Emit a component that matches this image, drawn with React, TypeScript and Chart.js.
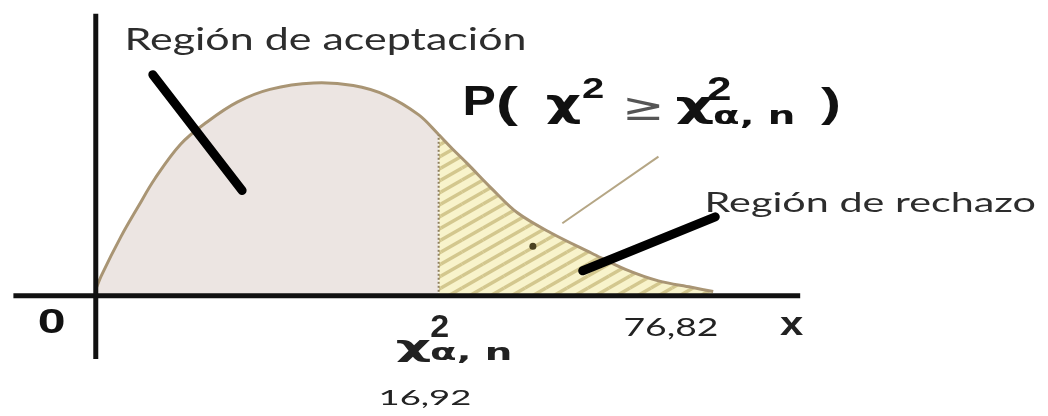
import React, { useEffect, useRef } from "react";
import { Chart, registerables } from "chart.js";

Chart.register(...registerables);

// ---- data (abstract x units; density scaled so the peak is 1) ----
const acceptX = [0, 0.78, 3.61, 6.01, 8.42, 12.09, 15.91, 20.16, 24.82, 31.05, 36.7, 41.37, 46.04, 48.87];
const acceptY = [0.03, 0.094, 0.279, 0.417, 0.55, 0.712, 0.818, 0.91, 0.97, 1.0, 0.988, 0.942, 0.85, 0.758];
const rejectX = [48.87, 50.85, 53, 56.4, 60.1, 64.9, 70.7, 75.5, 80.2, 84.9, 88];
const rejectY = [0.758, 0.69, 0.62, 0.505, 0.39, 0.295, 0.2, 0.124, 0.07, 0.04, 0.02];
const criticalX = 48.87;

const xAxisX = [-11.74, 100.4];
const yAxisY = [-0.297, 1.325];

const pointer1X = [8.13, 20.86];
const pointer1Y = [1.039, 0.495];
const pointer2X = [88.3, 69.4];
const pointer2Y = [0.371, 0.1175];
const thinX = [80.2, 66.5];
const thinY = [0.654, 0.341];
const dotX = [62.3];
const dotY = [0.233];

const tickLabels = ["0", "16,92", "76,82"];
const axisTitle = "x";
const regionLabels = ["Región de aceptación", "Región de rechazo"];
const formulaParts = ["P", "(", "χ", "2", "≥", "χ", "2", "α, n", ")"];
const criticalParts = ["χ", "2", "α, n"];

const pts = (xs: number[], ys: number[]) => xs.map((x, i) => ({ x, y: ys[i] }));

function ink(
  ctx: CanvasRenderingContext2D,
  text: string,
  font: string,
  x0: number,
  y0: number,
  x1: number,
  y1: number,
  color: string
) {
  ctx.save();
  ctx.font = font;
  ctx.textBaseline = "alphabetic";
  ctx.textAlign = "left";
  const m = ctx.measureText(text);
  const w = m.actualBoundingBoxLeft + m.actualBoundingBoxRight;
  const h = m.actualBoundingBoxAscent + m.actualBoundingBoxDescent;
  const sx = (x1 - x0) / w;
  const sy = (y1 - y0) / h;
  ctx.translate(x0 + m.actualBoundingBoxLeft * sx, y0 + m.actualBoundingBoxAscent * sy);
  ctx.scale(sx, sy);
  ctx.fillStyle = color;
  ctx.fillText(text, 0, 0);
  ctx.restore();
}

function makePattern(): CanvasPattern | string {
  const W = 21;
  const H = 12;
  const c = document.createElement("canvas");
  c.width = W;
  c.height = H;
  const g = c.getContext("2d");
  if (!g) return "#f3ecbf";
  g.fillStyle = "#f8f3cb";
  g.fillRect(0, 0, W, H);
  g.strokeStyle = "#d3c78e";
  g.lineWidth = 3.5;
  for (const dx of [-W, 0, W]) {
    for (const dy of [-H, 0, H]) {
      g.beginPath();
      g.moveTo(dx, H + dy);
      g.lineTo(W + dx, dy);
      g.stroke();
    }
  }
  return g.createPattern(c, "repeat") || "#f3ecbf";
}

const textPlugin = {
  id: "illustrationText",
  afterDraw(chart: any) {
    const ctx: CanvasRenderingContext2D = chart.ctx;
    const sans = "Lato, 'Open Sans', sans-serif";
    const bold = "bold 40px 'Liberation Sans', Arial, sans-serif";
    const greek = "bold 40px 'DejaVu Sans', sans-serif";
    const dark = "#2d2d2d";
    const black = "#111";

    ink(ctx, regionLabels[0], `24px ${sans}`, 128, 28, 524, 55, dark);
    ink(ctx, regionLabels[1], `24px ${sans}`, 708, 193, 1035, 217, dark);

    // formula P( χ² ≥ χ²α,n )
    ink(ctx, formulaParts[0], bold, 465, 85, 495, 115, black);
    ink(ctx, formulaParts[1], bold, 499, 85, 519, 125, black);
    ink(ctx, formulaParts[2], greek, 547, 95, 580, 125, black);
    ink(ctx, formulaParts[3], bold, 583, 77, 603, 98, black);
    ink(ctx, formulaParts[4], "40px 'DejaVu Sans', sans-serif", 627, 97, 660, 120, "#555");
    ink(ctx, formulaParts[5], greek, 677, 97, 713, 125, black);
    ink(ctx, formulaParts[6], bold, 708, 77, 730, 100, black);
    ink(ctx, formulaParts[7], greek, 714, 110, 793, 128, black);
    ink(ctx, formulaParts[8], bold, 821, 87, 839, 125, black);

    // critical value label
    ink(ctx, criticalParts[0], greek, 397, 340, 430, 362, "#222");
    ink(ctx, criticalParts[1], bold, 431, 315, 448, 337, "#222");
    ink(ctx, criticalParts[2], greek, 431, 347, 510, 364, "#222");

    ink(ctx, tickLabels[0], bold, 39, 308, 64, 333, black);
    ink(ctx, tickLabels[1], `24px ${sans}`, 380, 390, 470, 408, "#222");
    ink(ctx, tickLabels[2], `24px ${sans}`, 625, 318, 717, 340, "#222");
    ink(ctx, axisTitle, bold, 780, 317, 803, 335, "#222");
  },
};

export default function App() {
  const ref = useRef<HTMLCanvasElement | null>(null);

  useEffect(() => {
    document.body.style.margin = "0";
    const canvas = ref.current;
    if (!canvas) return;
    const hatch = makePattern();
    const curveColor = "#a99574";
    const chart = new Chart(canvas, {
      type: "line",
      data: {
        datasets: [
          {
            label: "aceptación",
            data: pts(acceptX, acceptY),
            borderColor: curveColor,
            borderWidth: 3,
            backgroundColor: "#ece5e2",
            fill: "origin",
            pointRadius: 0,
            tension: 0.35,
            order: 10,
          },
          {
            label: "rechazo",
            data: pts(rejectX, rejectY),
            borderColor: curveColor,
            borderWidth: 3,
            backgroundColor: hatch as any,
            fill: "origin",
            pointRadius: 0,
            tension: 0.35,
            order: 9,
          },
          {
            label: "crítico",
            data: [
              { x: criticalX, y: 0 },
              { x: criticalX, y: acceptY[acceptY.length - 1] },
            ],
            borderColor: "#8e7f5e",
            borderWidth: 2,
            borderDash: [2, 2],
            pointRadius: 0,
            fill: false,
            order: 8,
          },
          {
            label: "guía",
            data: pts(thinX, thinY),
            borderColor: "#b5a685",
            borderWidth: 2,
            pointRadius: 0,
            fill: false,
            order: 7,
          },
          {
            label: "punto",
            data: pts(dotX, dotY),
            showLine: false,
            pointRadius: 3.5,
            pointBackgroundColor: "#4a4222",
            pointBorderWidth: 0,
            order: 6,
          },
          {
            label: "eje x",
            data: [
              { x: xAxisX[0], y: 0 },
              { x: xAxisX[1], y: 0 },
            ],
            borderColor: "#111",
            borderWidth: 5,
            pointRadius: 0,
            fill: false,
            order: 3,
          },
          {
            label: "eje y",
            data: [
              { x: 0, y: yAxisY[0] },
              { x: 0, y: yAxisY[1] },
            ],
            borderColor: "#111",
            borderWidth: 5,
            pointRadius: 0,
            fill: false,
            order: 2,
          },
          {
            label: "flecha 1",
            data: pts(pointer1X, pointer1Y),
            borderColor: "#000",
            borderWidth: 9,
            borderCapStyle: "round",
            pointRadius: 0,
            fill: false,
            order: 1,
          },
          {
            label: "flecha 2",
            data: pts(pointer2X, pointer2Y),
            borderColor: "#000",
            borderWidth: 9,
            borderCapStyle: "round",
            pointRadius: 0,
            fill: false,
            order: 1,
          },
        ],
      },
      options: {
        responsive: false,
        animation: false,
        events: [],
        layout: { padding: 0 },
        plugins: { legend: { display: false }, tooltip: { enabled: false } },
        scales: {
          x: { type: "linear", min: -13.08, max: 135.15, display: false },
          y: { type: "linear", min: -0.546, max: 1.371, display: false },
        },
      },
      plugins: [textPlugin],
    });
    return () => chart.destroy();
  }, []);

  return (
    <div style={{ position: "fixed", left: 0, top: 0, width: 1048, height: 416, background: "#fff" }}>
      <canvas ref={ref} width={1048} height={416} style={{ display: "block" }} />
    </div>
  );
}
